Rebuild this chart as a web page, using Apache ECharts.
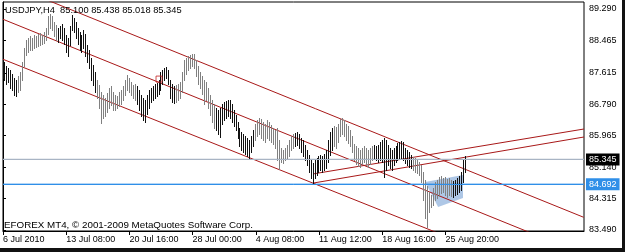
<!DOCTYPE html>
<html><head><meta charset="utf-8">
<script src="https://cdn.jsdelivr.net/npm/echarts/dist/echarts.min.js"></script>
<style>html,body{margin:0;padding:0;background:#fff;overflow:hidden}#c{width:625px;height:252px}</style>
</head><body><div id="c"></div>
<script>
// ---- data ----
const symbolName = 'USDJPY,H4';
const lastOHLC = [85.100, 85.438, 85.018, 85.345];
const footerText = 'EFOREX MT4, \u00A9 2001-2009 MetaQuotes Software Corp.';
const timeLabels = ['6 Jul 2010','13 Jul 08:00','20 Jul 16:00','28 Jul 00:00','4 Aug 08:00','11 Aug 12:00','18 Aug 16:00','25 Aug 20:00'];
const timeLabelIdx = [0,32,64,96,128,160,192,224];
const priceTicks = [89.290,88.465,87.615,86.790,85.965,85.140,84.315,83.490];
const highs = [
87.95,87.90,87.79,87.74,87.69,87.58,87.48,87.43,87.53,87.64,
87.90,88.27,88.48,88.53,88.58,88.53,88.61,88.58,88.63,88.66,
88.61,88.69,88.79,89.11,89.16,89.11,88.95,88.87,88.79,88.84,
88.90,88.79,88.61,88.53,88.84,89.13,89.05,88.95,88.79,88.69,
88.61,88.74,88.63,88.34,88.21,88.00,87.82,87.64,87.43,87.29,
87.11,87.03,86.95,87.08,87.22,87.27,87.11,87.03,87.01,87.11,
87.16,87.27,87.43,87.56,87.48,87.37,87.29,87.32,87.27,87.16,
87.03,86.95,86.90,87.03,87.16,87.22,87.27,87.32,87.35,87.43,
87.64,87.69,87.74,87.77,87.69,87.43,87.32,87.27,87.29,87.32,
87.37,87.64,87.95,88.00,88.06,88.08,88.11,88.11,87.95,87.79,
87.64,87.53,87.43,87.37,87.22,87.03,86.90,86.80,86.69,86.64,
86.69,86.80,86.85,86.88,86.90,86.90,86.80,86.64,86.51,86.32,
86.17,86.06,86.01,85.96,85.90,85.85,85.96,86.11,86.27,86.38,
86.43,86.40,86.32,86.27,86.38,86.32,86.25,86.17,86.11,86.17,
85.85,85.64,85.59,85.64,85.72,85.85,85.96,86.01,86.04,86.06,
86.01,85.90,85.85,85.72,85.59,85.46,85.33,85.25,85.33,85.38,
85.43,85.46,85.43,85.48,85.59,85.85,86.06,86.17,86.22,86.19,
86.27,86.40,86.43,86.38,86.27,86.22,86.11,85.96,85.75,85.69,
85.64,85.59,85.64,85.69,85.64,85.59,85.64,85.69,85.72,85.69,
85.72,85.80,85.85,85.90,85.85,85.72,85.64,85.59,85.64,85.69,
85.77,85.80,85.83,85.80,85.64,85.59,85.54,85.46,85.41,85.38,
85.33,85.27,85.20,85.01,84.80,84.64,84.49,84.41,84.59,84.75,
84.80,84.88,84.91,84.85,84.88,84.83,84.85,84.80,84.78,84.80,
84.85,84.91,85.01,85.33,85.438];
const lows = [
87.48,87.43,87.32,87.37,87.22,87.16,87.03,87.01,87.11,87.16,
87.43,87.79,88.08,88.16,88.21,88.21,88.27,88.29,88.32,88.34,
88.37,88.40,88.48,88.63,88.79,88.74,88.58,88.48,88.42,88.53,
88.48,88.37,88.16,88.06,88.34,88.74,88.69,88.53,88.37,88.21,
88.16,88.27,88.06,87.90,87.74,87.43,87.29,87.11,86.95,86.69,
86.30,86.43,86.48,86.59,86.69,86.77,86.64,86.64,86.69,86.74,
86.80,86.90,87.03,87.16,87.11,87.03,86.95,86.90,86.80,86.64,
86.48,86.38,86.32,86.53,86.69,86.85,86.90,86.95,87.01,87.06,
87.16,87.32,87.43,87.48,87.32,86.95,86.85,86.82,86.85,86.90,
86.95,87.11,87.43,87.58,87.69,87.74,87.79,87.74,87.53,87.32,
87.22,87.06,86.80,86.90,86.69,86.51,86.32,86.17,86.11,86.01,
85.93,86.27,86.38,86.43,86.48,86.43,86.32,86.22,86.11,85.90,
85.69,85.59,85.54,85.48,85.43,85.38,85.54,85.69,85.85,85.96,
86.01,85.90,85.85,85.80,85.90,85.85,85.80,85.75,85.64,85.33,
85.09,85.27,85.25,85.33,85.38,85.43,85.59,85.64,85.69,85.72,
85.64,85.54,85.43,85.33,85.20,85.01,84.85,84.72,84.85,84.93,
85.01,85.06,85.01,85.06,85.12,85.27,85.46,85.59,85.69,85.64,
85.80,85.96,86.01,85.96,85.85,85.77,85.69,85.54,85.33,85.22,
85.17,85.14,85.22,85.27,85.20,85.14,85.22,85.33,85.38,85.33,
85.27,85.33,85.27,84.88,85.06,85.20,85.12,85.06,85.20,85.27,
85.33,85.38,85.38,85.33,85.25,85.20,85.14,85.12,85.06,85.01,
84.98,84.93,84.75,84.28,83.80,83.57,83.96,84.09,84.14,84.28,
84.33,84.38,84.46,84.49,84.41,84.35,84.41,84.38,84.35,84.41,
84.43,84.49,84.54,84.75,85.018];
const bidPrice = 85.345;
const hLinePrice = 84.692;
// trend lines: [barIndex, price] end points
const channelUpper = [[20, 89.575], [294, 83.822]];
const channelMiddle = [[0, 89.02], [294, 82.85]];
const channelLower = [[0, 87.97], [294, 81.88]];
const riseLineUpper = [[157, 84.96], [294.2, 86.14]];
const riseLineLower = [[157, 84.72], [294.2, 85.93]];
const shadeVertices = [[213.7, 84.75], [232.9, 84.93], [232.9, 84.33], [220.3, 84.09]];
const anchorPoint = [[79, 87.45]];

// ---- chart ----
const X_MAX = 294.18, Y_MIN = 83.462, Y_MAX = 89.4735;
const chart = echarts.init(document.getElementById('c'), null, {renderer: 'canvas'});
const lineColor = '#a81818';
const trend = (d) => ({type: 'line', data: d, symbol: 'none', silent: true, clip: true, z: 3,
  lineStyle: {color: lineColor, width: 1}});
chart.setOption({
  animation: false,
  backgroundColor: '#ffffff',
  grid: {left: 3, top: 2, width: 581, height: 229, show: true, borderColor: '#000', borderWidth: 1, backgroundColor: '#ffffff'},
  xAxis: {type: 'value', min: 0, max: X_MAX,
    axisLine: {show: true, onZero: false, lineStyle: {color: '#000', width: 1}},
    axisTick: {show: true, customValues: timeLabelIdx, length: 4, lineStyle: {color: '#000'}},
    axisLabel: {customValues: timeLabelIdx, formatter: (v) => timeLabels[timeLabelIdx.indexOf(Math.round(v))] || '',
      align: 'left', margin: 4, color: '#000', fontSize: 9, fontFamily: 'Liberation Sans'},
    splitLine: {show: false}},
  yAxis: {type: 'value', position: 'right', min: Y_MIN, max: Y_MAX, scale: true,
    axisLine: {show: true, lineStyle: {color: '#000', width: 1}},
    axisTick: {show: true, customValues: priceTicks, length: 3, lineStyle: {color: '#000'}},
    axisLabel: {customValues: priceTicks, formatter: (v) => v.toFixed(3), margin: 5, color: '#000', fontSize: 9, fontFamily: 'Liberation Sans'},
    splitLine: {show: false}},
  graphic: [
    {type: 'text', left: 5, top: 6, z: 100, style: {text: symbolName + '  ' + lastOHLC.map(v => v.toFixed(3)).join(' '), font: '9.3px "Liberation Sans"', fill: '#000'}},
    {type: 'text', left: 4, top: 220, z: 100, style: {text: footerText, font: '9.8px "Liberation Sans"', fill: '#000'}},
    {type: 'rect', left: 0, top: 248, z: 100, shape: {width: 625, height: 4}, style: {fill: '#111'}},
    {type: 'rect', left: 622, top: 0, z: 100, shape: {width: 3, height: 252}, style: {fill: '#111'}}
  ],
  series: [
    {type: 'custom', z: 1, silent: true,
      renderItem: (p, api) => ({type: 'polygon', shape: {points: shadeVertices.map(v => api.coord(v))},
        style: {fill: 'rgba(140,175,220,0.7)'}}),
      data: [shadeVertices[0]]},
    {type: 'line', silent: true, symbol: 'none', data: [[0, bidPrice], [X_MAX, bidPrice]], z: 2,
      lineStyle: {color: '#a8b4c4', width: 1},
      markLine: {silent: true, symbol: 'none', data: [{yAxis: bidPrice}], lineStyle: {color: '#a8b4c4', width: 1, type: 'solid'},
        label: {position: 'end', distance: 2, formatter: () => bidPrice.toFixed(3), color: '#fff', backgroundColor: '#000',
          padding: [2, 3, 1, 3], fontSize: 9, fontFamily: 'Liberation Sans'}}},
    {type: 'line', silent: true, symbol: 'none', data: [[0, hLinePrice], [X_MAX, hLinePrice]], z: 2,
      lineStyle: {color: '#2f8fe8', width: 1},
      markLine: {silent: true, symbol: 'none', data: [{yAxis: hLinePrice}], lineStyle: {color: '#2f8fe8', width: 1, type: 'solid'},
        label: {position: 'end', distance: 2, formatter: () => hLinePrice.toFixed(3), color: '#fff', backgroundColor: '#2f8fe8',
          padding: [2, 3, 1, 3], fontSize: 9, fontFamily: 'Liberation Sans'}}},
    {type: 'custom', z: 4, silent: true, encode: {x: 0, y: [1, 2]},
      renderItem: (p, api) => {
        const i = api.value(0);
        const a = api.coord([i, api.value(1)]);
        const b = api.coord([i, api.value(2)]);
        const frac = a[0] - Math.floor(a[0]);
        const x = Math.floor(a[0]) + 0.5;
        const col = (frac > 0.3 && frac < 0.8) ? '#808080' : '#111';
        return {type: 'line', shape: {x1: x, y1: Math.round(a[1]), x2: x, y2: Math.round(b[1]) + 1}, style: {stroke: col, lineWidth: 1}};
      },
      data: highs.map((h, i) => [i, h, lows[i]])},
    trend(channelUpper), trend(channelMiddle), trend(channelLower), trend(riseLineUpper), trend(riseLineLower),
    {type: 'scatter', z: 5, silent: true, data: anchorPoint, symbol: 'rect', symbolSize: 6,
      itemStyle: {color: 'rgba(0,0,0,0)', borderColor: '#c02020', borderWidth: 1}}
  ]
});
</script></body></html>
